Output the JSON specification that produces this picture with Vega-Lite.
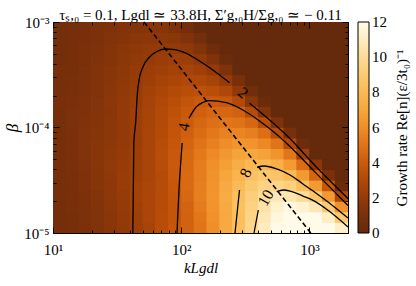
{
"$schema":"https://vega.github.io/schema/vega-lite/v6.json",
"width":295,"height":211,"autosize":"none",
"padding":{"left":53,"top":22,"right":68,"bottom":53},
"background":"white",
"config":{"font":"Liberation Serif","view":{"stroke":"black","strokeWidth":1}},
"title":{"text":"τₛ,₀ = 0.1, Lgdl ≃ 33.8H, Σ′g,₀H/Σg,₀ ≃ − 0.11","fontSize":15,"fontWeight":"normal","font":"Liberation Serif","offset":-8,"anchor":"middle","color":"black"},
"datasets":{
"grid":[
{"k":11.22,"b":1.122e-5,"g":0.7},{"k":14.13,"b":1.122e-5,"g":0.84},{"k":17.78,"b":1.122e-5,"g":1.03},{"k":22.39,"b":1.122e-5,"g":1.24},{"k":28.18,"b":1.122e-5,"g":1.51},{"k":35.48,"b":1.122e-5,"g":1.85},{"k":44.67,"b":1.122e-5,"g":2.27},{"k":56.23,"b":1.122e-5,"g":2.73},{"k":70.79,"b":1.122e-5,"g":3.31},{"k":89.13,"b":1.122e-5,"g":3.78},{"k":112.2,"b":1.122e-5,"g":4.32},{"k":141.3,"b":1.122e-5,"g":5.0},{"k":177.8,"b":1.122e-5,"g":6.05},{"k":223.9,"b":1.122e-5,"g":7.19},{"k":281.8,"b":1.122e-5,"g":8.34},{"k":354.8,"b":1.122e-5,"g":9.71},{"k":446.7,"b":1.122e-5,"g":11.0},{"k":562.3,"b":1.122e-5,"g":12.3},{"k":707.9,"b":1.122e-5,"g":13.4},{"k":891.3,"b":1.122e-5,"g":14.2},{"k":1122,"b":1.122e-5,"g":13.7},{"k":1413,"b":1.122e-5,"g":12.8},{"k":1778,"b":1.122e-5,"g":11.2},
{"k":11.22,"b":1.413e-5,"g":0.72},{"k":14.13,"b":1.413e-5,"g":0.87},{"k":17.78,"b":1.413e-5,"g":1.05},{"k":22.39,"b":1.413e-5,"g":1.27},{"k":28.18,"b":1.413e-5,"g":1.55},{"k":35.48,"b":1.413e-5,"g":1.91},{"k":44.67,"b":1.413e-5,"g":2.3},{"k":56.23,"b":1.413e-5,"g":2.81},{"k":70.79,"b":1.413e-5,"g":3.28},{"k":89.13,"b":1.413e-5,"g":3.72},{"k":112.2,"b":1.413e-5,"g":4.29},{"k":141.3,"b":1.413e-5,"g":5.1},{"k":177.8,"b":1.413e-5,"g":6.14},{"k":223.9,"b":1.413e-5,"g":7.18},{"k":281.8,"b":1.413e-5,"g":8.32},{"k":354.8,"b":1.413e-5,"g":9.57},{"k":446.7,"b":1.413e-5,"g":10.7},{"k":562.3,"b":1.413e-5,"g":11.7},{"k":707.9,"b":1.413e-5,"g":12.6},{"k":891.3,"b":1.413e-5,"g":12.8},{"k":1122,"b":1.413e-5,"g":12.2},{"k":1413,"b":1.413e-5,"g":11.1},{"k":1778,"b":1.413e-5,"g":9.0},
{"k":11.22,"b":1.778e-5,"g":0.74},{"k":14.13,"b":1.778e-5,"g":0.9},{"k":17.78,"b":1.778e-5,"g":1.08},{"k":22.39,"b":1.778e-5,"g":1.32},{"k":28.18,"b":1.778e-5,"g":1.62},{"k":35.48,"b":1.778e-5,"g":1.98},{"k":44.67,"b":1.778e-5,"g":2.4},{"k":56.23,"b":1.778e-5,"g":2.87},{"k":70.79,"b":1.778e-5,"g":3.24},{"k":89.13,"b":1.778e-5,"g":3.71},{"k":112.2,"b":1.778e-5,"g":4.33},{"k":141.3,"b":1.778e-5,"g":5.28},{"k":177.8,"b":1.778e-5,"g":6.24},{"k":223.9,"b":1.778e-5,"g":7.19},{"k":281.8,"b":1.778e-5,"g":8.38},{"k":354.8,"b":1.778e-5,"g":9.45},{"k":446.7,"b":1.778e-5,"g":10.4},{"k":562.3,"b":1.778e-5,"g":11.3},{"k":707.9,"b":1.778e-5,"g":11.8},{"k":891.3,"b":1.778e-5,"g":11.4},{"k":1122,"b":1.778e-5,"g":10.7},{"k":1413,"b":1.778e-5,"g":9.0},{"k":1778,"b":1.778e-5,"g":6.2},
{"k":11.22,"b":2.239e-5,"g":0.77},{"k":14.13,"b":2.239e-5,"g":0.93},{"k":17.78,"b":2.239e-5,"g":1.13},{"k":22.39,"b":2.239e-5,"g":1.38},{"k":28.18,"b":2.239e-5,"g":1.7},{"k":35.48,"b":2.239e-5,"g":2.05},{"k":44.67,"b":2.239e-5,"g":2.49},{"k":56.23,"b":2.239e-5,"g":2.84},{"k":70.79,"b":2.239e-5,"g":3.25},{"k":89.13,"b":2.239e-5,"g":3.76},{"k":112.2,"b":2.239e-5,"g":4.53},{"k":141.3,"b":2.239e-5,"g":5.41},{"k":177.8,"b":2.239e-5,"g":6.28},{"k":223.9,"b":2.239e-5,"g":7.3},{"k":281.8,"b":2.239e-5,"g":8.32},{"k":354.8,"b":2.239e-5,"g":9.22},{"k":446.7,"b":2.239e-5,"g":10.1},{"k":562.3,"b":2.239e-5,"g":10.7},{"k":707.9,"b":2.239e-5,"g":10.6},{"k":891.3,"b":2.239e-5,"g":10.0},{"k":1122,"b":2.239e-5,"g":8.7},{"k":1413,"b":2.239e-5,"g":6.45},{"k":1778,"b":2.239e-5,"g":2.9},
{"k":11.22,"b":2.818e-5,"g":0.79},{"k":14.13,"b":2.818e-5,"g":0.96},{"k":17.78,"b":2.818e-5,"g":1.17},{"k":22.39,"b":2.818e-5,"g":1.43},{"k":28.18,"b":2.818e-5,"g":1.73},{"k":35.48,"b":2.818e-5,"g":2.11},{"k":44.67,"b":2.818e-5,"g":2.47},{"k":56.23,"b":2.818e-5,"g":2.81},{"k":70.79,"b":2.818e-5,"g":3.23},{"k":89.13,"b":2.818e-5,"g":3.83},{"k":112.2,"b":2.818e-5,"g":4.62},{"k":141.3,"b":2.818e-5,"g":5.41},{"k":177.8,"b":2.818e-5,"g":6.26},{"k":223.9,"b":2.818e-5,"g":7.22},{"k":281.8,"b":2.818e-5,"g":8.08},{"k":354.8,"b":2.818e-5,"g":8.87},{"k":446.7,"b":2.818e-5,"g":9.55},{"k":562.3,"b":2.818e-5,"g":9.64},{"k":707.9,"b":2.818e-5,"g":9.32},{"k":891.3,"b":2.818e-5,"g":8.26},{"k":1122,"b":2.818e-5,"g":6.53},{"k":1413,"b":2.818e-5,"g":3.82},{"k":1778,"b":2.818e-5,"g":0.28},
{"k":11.22,"b":3.548e-5,"g":0.8},{"k":14.13,"b":3.548e-5,"g":0.97},{"k":17.78,"b":3.548e-5,"g":1.2},{"k":22.39,"b":3.548e-5,"g":1.46},{"k":28.18,"b":3.548e-5,"g":1.77},{"k":35.48,"b":3.548e-5,"g":2.13},{"k":44.67,"b":3.548e-5,"g":2.39},{"k":56.23,"b":3.548e-5,"g":2.75},{"k":70.79,"b":3.548e-5,"g":3.19},{"k":89.13,"b":3.548e-5,"g":3.9},{"k":112.2,"b":3.548e-5,"g":4.61},{"k":141.3,"b":3.548e-5,"g":5.32},{"k":177.8,"b":3.548e-5,"g":6.2},{"k":223.9,"b":3.548e-5,"g":7.0},{"k":281.8,"b":3.548e-5,"g":7.71},{"k":354.8,"b":3.548e-5,"g":8.42},{"k":446.7,"b":3.548e-5,"g":8.86},{"k":562.3,"b":3.548e-5,"g":8.6},{"k":707.9,"b":3.548e-5,"g":8.0},{"k":891.3,"b":3.548e-5,"g":6.49},{"k":1122,"b":3.548e-5,"g":4.42},{"k":1413,"b":3.548e-5,"g":1.0},{"k":1778,"b":3.548e-5,"g":0},
{"k":11.22,"b":4.467e-5,"g":0.83},{"k":14.13,"b":4.467e-5,"g":1.01},{"k":17.78,"b":4.467e-5,"g":1.24},{"k":22.39,"b":4.467e-5,"g":1.49},{"k":28.18,"b":4.467e-5,"g":1.81},{"k":35.48,"b":4.467e-5,"g":2.08},{"k":44.67,"b":4.467e-5,"g":2.38},{"k":56.23,"b":4.467e-5,"g":2.75},{"k":70.79,"b":4.467e-5,"g":3.31},{"k":89.13,"b":4.467e-5,"g":3.95},{"k":112.2,"b":4.467e-5,"g":4.59},{"k":141.3,"b":4.467e-5,"g":5.34},{"k":177.8,"b":4.467e-5,"g":6.09},{"k":223.9,"b":4.467e-5,"g":6.76},{"k":281.8,"b":4.467e-5,"g":7.4},{"k":354.8,"b":4.467e-5,"g":7.89},{"k":446.7,"b":4.467e-5,"g":7.85},{"k":562.3,"b":4.467e-5,"g":7.47},{"k":707.9,"b":4.467e-5,"g":6.52},{"k":891.3,"b":4.467e-5,"g":4.71},{"k":1122,"b":4.467e-5,"g":1.62},{"k":1413,"b":4.467e-5,"g":0},{"k":1778,"b":4.467e-5,"g":0},
{"k":11.22,"b":5.623e-5,"g":0.84},{"k":14.13,"b":5.623e-5,"g":1.03},{"k":17.78,"b":5.623e-5,"g":1.25},{"k":22.39,"b":5.623e-5,"g":1.52},{"k":28.18,"b":5.623e-5,"g":1.79},{"k":35.48,"b":5.623e-5,"g":2.02},{"k":44.67,"b":5.623e-5,"g":2.33},{"k":56.23,"b":5.623e-5,"g":2.75},{"k":70.79,"b":5.623e-5,"g":3.33},{"k":89.13,"b":5.623e-5,"g":3.9},{"k":112.2,"b":5.623e-5,"g":4.52},{"k":141.3,"b":5.623e-5,"g":5.21},{"k":177.8,"b":5.623e-5,"g":5.84},{"k":223.9,"b":5.623e-5,"g":6.41},{"k":281.8,"b":5.623e-5,"g":6.92},{"k":354.8,"b":5.623e-5,"g":7.12},{"k":446.7,"b":5.623e-5,"g":6.84},{"k":562.3,"b":5.623e-5,"g":6.23},{"k":707.9,"b":5.623e-5,"g":5.04},{"k":891.3,"b":5.623e-5,"g":2.29},{"k":1122,"b":5.623e-5,"g":0},{"k":1413,"b":5.623e-5,"g":0},{"k":1778,"b":5.623e-5,"g":0},
{"k":11.22,"b":7.079e-5,"g":0.85},{"k":14.13,"b":7.079e-5,"g":1.04},{"k":17.78,"b":7.079e-5,"g":1.26},{"k":22.39,"b":7.079e-5,"g":1.51},{"k":28.18,"b":7.079e-5,"g":1.7},{"k":35.48,"b":7.079e-5,"g":1.95},{"k":44.67,"b":7.079e-5,"g":2.26},{"k":56.23,"b":7.079e-5,"g":2.76},{"k":70.79,"b":7.079e-5,"g":3.27},{"k":89.13,"b":7.079e-5,"g":3.78},{"k":112.2,"b":7.079e-5,"g":4.4},{"k":141.3,"b":7.079e-5,"g":4.98},{"k":177.8,"b":7.079e-5,"g":5.49},{"k":223.9,"b":7.079e-5,"g":6.0},{"k":281.8,"b":7.079e-5,"g":6.32},{"k":354.8,"b":7.079e-5,"g":6.26},{"k":446.7,"b":7.079e-5,"g":5.82},{"k":562.3,"b":7.079e-5,"g":4.99},{"k":707.9,"b":7.079e-5,"g":3.14},{"k":891.3,"b":7.079e-5,"g":0.38},{"k":1122,"b":7.079e-5,"g":0},{"k":1413,"b":7.079e-5,"g":0},{"k":1778,"b":7.079e-5,"g":0},
{"k":11.22,"b":8.913e-5,"g":0.86},{"k":14.13,"b":8.913e-5,"g":1.03},{"k":17.78,"b":8.913e-5,"g":1.26},{"k":22.39,"b":8.913e-5,"g":1.45},{"k":28.18,"b":8.913e-5,"g":1.65},{"k":35.48,"b":8.913e-5,"g":1.91},{"k":44.67,"b":8.913e-5,"g":2.29},{"k":56.23,"b":8.913e-5,"g":2.74},{"k":70.79,"b":8.913e-5,"g":3.19},{"k":89.13,"b":8.913e-5,"g":3.71},{"k":112.2,"b":8.913e-5,"g":4.24},{"k":141.3,"b":8.913e-5,"g":4.71},{"k":177.8,"b":8.913e-5,"g":5.16},{"k":223.9,"b":8.913e-5,"g":5.51},{"k":281.8,"b":8.913e-5,"g":5.65},{"k":354.8,"b":8.913e-5,"g":5.41},{"k":446.7,"b":8.913e-5,"g":4.81},{"k":562.3,"b":8.913e-5,"g":3.2},{"k":707.9,"b":8.913e-5,"g":0.97},{"k":891.3,"b":8.913e-5,"g":0},{"k":1122,"b":8.913e-5,"g":0},{"k":1413,"b":8.913e-5,"g":0},{"k":1778,"b":8.913e-5,"g":0},
{"k":11.22,"b":1.122e-4,"g":0.86},{"k":14.13,"b":1.122e-4,"g":1.05},{"k":17.78,"b":1.122e-4,"g":1.24},{"k":22.39,"b":1.122e-4,"g":1.41},{"k":28.18,"b":1.122e-4,"g":1.62},{"k":35.48,"b":1.122e-4,"g":1.91},{"k":44.67,"b":1.122e-4,"g":2.31},{"k":56.23,"b":1.122e-4,"g":2.71},{"k":70.79,"b":1.122e-4,"g":3.14},{"k":89.13,"b":1.122e-4,"g":3.62},{"k":112.2,"b":1.122e-4,"g":4.07},{"k":141.3,"b":1.122e-4,"g":4.47},{"k":177.8,"b":1.122e-4,"g":4.83},{"k":223.9,"b":1.122e-4,"g":5.05},{"k":281.8,"b":1.122e-4,"g":4.95},{"k":354.8,"b":1.122e-4,"g":4.55},{"k":446.7,"b":1.122e-4,"g":3.33},{"k":562.3,"b":1.122e-4,"g":1.14},{"k":707.9,"b":1.122e-4,"g":0},{"k":891.3,"b":1.122e-4,"g":0},{"k":1122,"b":1.122e-4,"g":0},{"k":1413,"b":1.122e-4,"g":0},{"k":1778,"b":1.122e-4,"g":0},
{"k":11.22,"b":1.413e-4,"g":0.88},{"k":14.13,"b":1.413e-4,"g":1.06},{"k":17.78,"b":1.413e-4,"g":1.2},{"k":22.39,"b":1.413e-4,"g":1.37},{"k":28.18,"b":1.413e-4,"g":1.59},{"k":35.48,"b":1.413e-4,"g":1.94},{"k":44.67,"b":1.413e-4,"g":2.3},{"k":56.23,"b":1.413e-4,"g":2.66},{"k":70.79,"b":1.413e-4,"g":3.1},{"k":89.13,"b":1.413e-4,"g":3.51},{"k":112.2,"b":1.413e-4,"g":3.87},{"k":141.3,"b":1.413e-4,"g":4.23},{"k":177.8,"b":1.413e-4,"g":4.47},{"k":223.9,"b":1.413e-4,"g":4.48},{"k":281.8,"b":1.413e-4,"g":4.25},{"k":354.8,"b":1.413e-4,"g":3.22},{"k":446.7,"b":1.413e-4,"g":1.37},{"k":562.3,"b":1.413e-4,"g":0},{"k":707.9,"b":1.413e-4,"g":0},{"k":891.3,"b":1.413e-4,"g":0},{"k":1122,"b":1.413e-4,"g":0},{"k":1413,"b":1.413e-4,"g":0},{"k":1778,"b":1.413e-4,"g":0},
{"k":11.22,"b":1.778e-4,"g":0.89},{"k":14.13,"b":1.778e-4,"g":1.03},{"k":17.78,"b":1.778e-4,"g":1.17},{"k":22.39,"b":1.778e-4,"g":1.35},{"k":28.18,"b":1.778e-4,"g":1.62},{"k":35.48,"b":1.778e-4,"g":1.95},{"k":44.67,"b":1.778e-4,"g":2.27},{"k":56.23,"b":1.778e-4,"g":2.63},{"k":70.79,"b":1.778e-4,"g":3.01},{"k":89.13,"b":1.778e-4,"g":3.35},{"k":112.2,"b":1.778e-4,"g":3.67},{"k":141.3,"b":1.778e-4,"g":3.93},{"k":177.8,"b":1.778e-4,"g":4.0},{"k":223.9,"b":1.778e-4,"g":3.86},{"k":281.8,"b":1.778e-4,"g":3.1},{"k":354.8,"b":1.778e-4,"g":1.57},{"k":446.7,"b":1.778e-4,"g":0.32},{"k":562.3,"b":1.778e-4,"g":0},{"k":707.9,"b":1.778e-4,"g":0},{"k":891.3,"b":1.778e-4,"g":0},{"k":1122,"b":1.778e-4,"g":0},{"k":1413,"b":1.778e-4,"g":0},{"k":1778,"b":1.778e-4,"g":0},
{"k":11.22,"b":2.239e-4,"g":0.86},{"k":14.13,"b":2.239e-4,"g":0.97},{"k":17.78,"b":2.239e-4,"g":1.12},{"k":22.39,"b":2.239e-4,"g":1.31},{"k":28.18,"b":2.239e-4,"g":1.59},{"k":35.48,"b":2.239e-4,"g":1.87},{"k":44.67,"b":2.239e-4,"g":2.16},{"k":56.23,"b":2.239e-4,"g":2.51},{"k":70.79,"b":2.239e-4,"g":2.81},{"k":89.13,"b":2.239e-4,"g":3.09},{"k":112.2,"b":2.239e-4,"g":3.35},{"k":141.3,"b":2.239e-4,"g":3.48},{"k":177.8,"b":2.239e-4,"g":3.32},{"k":223.9,"b":2.239e-4,"g":2.93},{"k":281.8,"b":2.239e-4,"g":1.82},{"k":354.8,"b":2.239e-4,"g":0.62},{"k":446.7,"b":2.239e-4,"g":0},{"k":562.3,"b":2.239e-4,"g":0},{"k":707.9,"b":2.239e-4,"g":0},{"k":891.3,"b":2.239e-4,"g":0},{"k":1122,"b":2.239e-4,"g":0},{"k":1413,"b":2.239e-4,"g":0},{"k":1778,"b":2.239e-4,"g":0},
{"k":11.22,"b":2.818e-4,"g":0.8},{"k":14.13,"b":2.818e-4,"g":0.92},{"k":17.78,"b":2.818e-4,"g":1.07},{"k":22.39,"b":2.818e-4,"g":1.3},{"k":28.18,"b":2.818e-4,"g":1.54},{"k":35.48,"b":2.818e-4,"g":1.78},{"k":44.67,"b":2.818e-4,"g":2.08},{"k":56.23,"b":2.818e-4,"g":2.35},{"k":70.79,"b":2.818e-4,"g":2.6},{"k":89.13,"b":2.818e-4,"g":2.84},{"k":112.2,"b":2.818e-4,"g":3.01},{"k":141.3,"b":2.818e-4,"g":2.94},{"k":177.8,"b":2.818e-4,"g":2.63},{"k":223.9,"b":2.818e-4,"g":2.0},{"k":281.8,"b":2.818e-4,"g":0.91},{"k":354.8,"b":2.818e-4,"g":0},{"k":446.7,"b":2.818e-4,"g":0},{"k":562.3,"b":2.818e-4,"g":0},{"k":707.9,"b":2.818e-4,"g":0},{"k":891.3,"b":2.818e-4,"g":0},{"k":1122,"b":2.818e-4,"g":0},{"k":1413,"b":2.818e-4,"g":0},{"k":1778,"b":2.818e-4,"g":0},
{"k":11.22,"b":3.548e-4,"g":0.76},{"k":14.13,"b":3.548e-4,"g":0.88},{"k":17.78,"b":3.548e-4,"g":1.05},{"k":22.39,"b":3.548e-4,"g":1.26},{"k":28.18,"b":3.548e-4,"g":1.47},{"k":35.48,"b":3.548e-4,"g":1.71},{"k":44.67,"b":3.548e-4,"g":1.96},{"k":56.23,"b":3.548e-4,"g":2.18},{"k":70.79,"b":3.548e-4,"g":2.39},{"k":89.13,"b":3.548e-4,"g":2.56},{"k":112.2,"b":3.548e-4,"g":2.62},{"k":141.3,"b":3.548e-4,"g":2.4},{"k":177.8,"b":3.548e-4,"g":1.93},{"k":223.9,"b":3.548e-4,"g":1.16},{"k":281.8,"b":3.548e-4,"g":0},{"k":354.8,"b":3.548e-4,"g":0},{"k":446.7,"b":3.548e-4,"g":0},{"k":562.3,"b":3.548e-4,"g":0},{"k":707.9,"b":3.548e-4,"g":0},{"k":891.3,"b":3.548e-4,"g":0},{"k":1122,"b":3.548e-4,"g":0},{"k":1413,"b":3.548e-4,"g":0},{"k":1778,"b":3.548e-4,"g":0},
{"k":11.22,"b":4.467e-4,"g":0.73},{"k":14.13,"b":4.467e-4,"g":0.85},{"k":17.78,"b":4.467e-4,"g":1.04},{"k":22.39,"b":4.467e-4,"g":1.22},{"k":28.18,"b":4.467e-4,"g":1.41},{"k":35.48,"b":4.467e-4,"g":1.63},{"k":44.67,"b":4.467e-4,"g":1.84},{"k":56.23,"b":4.467e-4,"g":2.02},{"k":70.79,"b":4.467e-4,"g":2.19},{"k":89.13,"b":4.467e-4,"g":2.29},{"k":112.2,"b":4.467e-4,"g":2.21},{"k":141.3,"b":4.467e-4,"g":1.85},{"k":177.8,"b":4.467e-4,"g":1.22},{"k":223.9,"b":4.467e-4,"g":0.31},{"k":281.8,"b":4.467e-4,"g":0},{"k":354.8,"b":4.467e-4,"g":0},{"k":446.7,"b":4.467e-4,"g":0},{"k":562.3,"b":4.467e-4,"g":0},{"k":707.9,"b":4.467e-4,"g":0},{"k":891.3,"b":4.467e-4,"g":0},{"k":1122,"b":4.467e-4,"g":0},{"k":1413,"b":4.467e-4,"g":0},{"k":1778,"b":4.467e-4,"g":0},
{"k":11.22,"b":5.623e-4,"g":0.71},{"k":14.13,"b":5.623e-4,"g":0.86},{"k":17.78,"b":5.623e-4,"g":1.02},{"k":22.39,"b":5.623e-4,"g":1.18},{"k":28.18,"b":5.623e-4,"g":1.37},{"k":35.48,"b":5.623e-4,"g":1.56},{"k":44.67,"b":5.623e-4,"g":1.73},{"k":56.23,"b":5.623e-4,"g":1.89},{"k":70.79,"b":5.623e-4,"g":2.0},{"k":89.13,"b":5.623e-4,"g":1.95},{"k":112.2,"b":5.623e-4,"g":1.75},{"k":141.3,"b":5.623e-4,"g":1.25},{"k":177.8,"b":5.623e-4,"g":0.52},{"k":223.9,"b":5.623e-4,"g":0},{"k":281.8,"b":5.623e-4,"g":0},{"k":354.8,"b":5.623e-4,"g":0},{"k":446.7,"b":5.623e-4,"g":0},{"k":562.3,"b":5.623e-4,"g":0},{"k":707.9,"b":5.623e-4,"g":0},{"k":891.3,"b":5.623e-4,"g":0},{"k":1122,"b":5.623e-4,"g":0},{"k":1413,"b":5.623e-4,"g":0},{"k":1778,"b":5.623e-4,"g":0},
{"k":11.22,"b":7.079e-4,"g":0.68},{"k":14.13,"b":7.079e-4,"g":0.81},{"k":17.78,"b":7.079e-4,"g":0.95},{"k":22.39,"b":7.079e-4,"g":1.1},{"k":28.18,"b":7.079e-4,"g":1.27},{"k":35.48,"b":7.079e-4,"g":1.41},{"k":44.67,"b":7.079e-4,"g":1.55},{"k":56.23,"b":7.079e-4,"g":1.66},{"k":70.79,"b":7.079e-4,"g":1.7},{"k":89.13,"b":7.079e-4,"g":1.55},{"k":112.2,"b":7.079e-4,"g":1.24},{"k":141.3,"b":7.079e-4,"g":0.66},{"k":177.8,"b":7.079e-4,"g":0},{"k":223.9,"b":7.079e-4,"g":0},{"k":281.8,"b":7.079e-4,"g":0},{"k":354.8,"b":7.079e-4,"g":0},{"k":446.7,"b":7.079e-4,"g":0},{"k":562.3,"b":7.079e-4,"g":0},{"k":707.9,"b":7.079e-4,"g":0},{"k":891.3,"b":7.079e-4,"g":0},{"k":1122,"b":7.079e-4,"g":0},{"k":1413,"b":7.079e-4,"g":0},{"k":1778,"b":7.079e-4,"g":0},
{"k":11.22,"b":8.913e-4,"g":0.66},{"k":14.13,"b":8.913e-4,"g":0.78},{"k":17.78,"b":8.913e-4,"g":0.9},{"k":22.39,"b":8.913e-4,"g":1.05},{"k":28.18,"b":8.913e-4,"g":1.18},{"k":35.48,"b":8.913e-4,"g":1.3},{"k":44.67,"b":8.913e-4,"g":1.41},{"k":56.23,"b":8.913e-4,"g":1.5},{"k":70.79,"b":8.913e-4,"g":1.44},{"k":89.13,"b":8.913e-4,"g":1.14},{"k":112.2,"b":8.913e-4,"g":0.73},{"k":141.3,"b":8.913e-4,"g":0.06},{"k":177.8,"b":8.913e-4,"g":0},{"k":223.9,"b":8.913e-4,"g":0},{"k":281.8,"b":8.913e-4,"g":0},{"k":354.8,"b":8.913e-4,"g":0},{"k":446.7,"b":8.913e-4,"g":0},{"k":562.3,"b":8.913e-4,"g":0},{"k":707.9,"b":8.913e-4,"g":0},{"k":891.3,"b":8.913e-4,"g":0},{"k":1122,"b":8.913e-4,"g":0},{"k":1413,"b":8.913e-4,"g":0},{"k":1778,"b":8.913e-4,"g":0}
],
"contours":[
{"seg":"2a","k":41.95,"b":1e-5},{"seg":"2a","k":42.7,"b":7.13e-5},{"seg":"2a","k":44.3,"b":1.178e-4},{"seg":"2a","k":45.3,"b":1.959e-4},{"seg":"2a","k":46.9,"b":2.82e-4},{"seg":"2a","k":50.4,"b":3.77e-4},{"seg":"2a","k":56.9,"b":4.69e-4},{"seg":"2a","k":64.1,"b":5.23e-4},{"seg":"2a","k":74.4,"b":5.55e-4},{"seg":"2a","k":89.0,"b":5.48e-4},{"seg":"2a","k":109.8,"b":5.05e-4},{"seg":"2a","k":147.8,"b":4.06e-4},{"seg":"2a","k":199.4,"b":3.15e-4},{"seg":"2a","k":238.5,"b":2.66e-4},
{"seg":"2b","k":341.3,"b":1.696e-4},{"seg":"2b","k":698,"b":7.94e-5},{"seg":"2b","k":1122,"b":4.27e-5},{"seg":"2b","k":2000,"b":2.12e-5},
{"seg":"4a","k":92.7,"b":1e-5},{"seg":"4a","k":96.1,"b":2.556e-5},{"seg":"4a","k":101.8,"b":7.13e-5},
{"seg":"4b","k":115.0,"b":1.223e-4},{"seg":"4b","k":131.3,"b":1.574e-4},{"seg":"4b","k":147.0,"b":1.726e-4},{"seg":"4b","k":166.7,"b":1.795e-4},{"seg":"4b","k":224.8,"b":1.718e-4},{"seg":"4b","k":302.7,"b":1.465e-4},{"seg":"4b","k":408.2,"b":1.153e-4},{"seg":"4b","k":550.7,"b":8.68e-5},{"seg":"4b","k":698.9,"b":6.68e-5},{"seg":"4b","k":1122,"b":3.715e-5},{"seg":"4b","k":2000,"b":1.822e-5},
{"seg":"8a","k":262.9,"b":1e-5},{"seg":"8a","k":285.0,"b":2.556e-5},
{"seg":"8b","k":390.2,"b":4.18e-5},{"seg":"8b","k":442.4,"b":4.315e-5},{"seg":"8b","k":555.8,"b":4.05e-5},{"seg":"8b","k":706,"b":3.55e-5},{"seg":"8b","k":891,"b":2.917e-5},{"seg":"8b","k":1122,"b":2.399e-5},{"seg":"8b","k":1413,"b":1.95e-5},{"seg":"8b","k":2000,"b":1.387e-5},
{"seg":"10a","k":369.8,"b":1e-5},{"seg":"10a","k":399.4,"b":1.652e-5},
{"seg":"10b","k":555.8,"b":2.463e-5},{"seg":"10b","k":625.7,"b":2.556e-5},{"seg":"10b","k":706,"b":2.5e-5},{"seg":"10b","k":891,"b":2.24e-5},{"seg":"10b","k":1122,"b":1.972e-5},{"seg":"10b","k":1413,"b":1.622e-5},{"seg":"10b","k":2000,"b":1.14e-5}
],
"dash":[{"k":51.3,"b":1e-3},{"k":1025,"b":1e-5}],
"labels":[{"label":"2","k":303,"b":2.12e-4},{"label":"4","k":105,"b":1.01e-4},{"label":"8","k":320,"b":3.71e-5},{"label":"10","k":458,"b":2.15e-5}]
},
"layer":[
{"data":{"name":"grid"},"mark":{"type":"rect","width":{"band":1.06},"height":{"band":1.08},"clip":true},
"encoding":{
"x":{"field":"k","type":"ordinal","axis":null,"scale":{"paddingInner":0,"paddingOuter":0}},
"y":{"field":"b","type":"ordinal","sort":"descending","axis":null,"scale":{"paddingInner":0,"paddingOuter":0}},
"fill":{"field":"g","type":"quantitative","scale":{"domain":[0,1,2,3,4,5,6,7,8,9,10,11,12],"range":["#652a0c","#7a300a","#953b08","#b04808","#cb5a0c","#e07418","#ef8e28","#f6a63c","#fab955","#fcca72","#fddb96","#feecc0","#fffbe8"],"clamp":true},
"legend":{"type":"gradient","title":"Growth rate  Re[n](ε/3t₀)⁻¹","orient":"right","offset":7,"direction":"vertical","gradientLength":211,"gradientThickness":11,"values":[0,2,4,6,8,10,12],"labelFontSize":15,"labelFont":"Liberation Serif","labelColor":"black","labelOffset":3,"labelBaseline":"middle","titleFontSize":15,"titleFont":"Liberation Serif","titleFontWeight":"normal","titleColor":"black","titleOrient":"right","titleAnchor":"middle","titlePadding":8,"titleLimit":300,"gradientStrokeColor":"black","gradientStrokeWidth":1,"padding":0,
"encode":{"title":{"update":{"angle":{"value":270},"align":{"value":"center"},"baseline":{"value":"top"}}},"labels":{"update":{"baseline":{"value":"middle"}}}}}}
}},
{"layer":[
{"data":{"name":"contours"},"mark":{"type":"line","color":"black","strokeWidth":1.3,"interpolate":"monotone"},
"encoding":{
"x":{"field":"k","type":"quantitative","scale":{"type":"log","domain":[10,2000],"nice":false},
"axis":{"orient":"bottom","title":"kLgdl","titleFontSize":15,"titleFontWeight":"normal","titleFontStyle":"italic","titleColor":"black","titlePadding":0,"values":[10,20,30,40,50,60,70,80,90,100,200,300,400,500,600,700,800,900,1000,2000],"labelExpr":"datum.value == 10 ? '10¹' : datum.value == 100 ? '10²' : datum.value == 1000 ? '10³' : ''","labelFontSize":15,"labelColor":"black","labelFlush":false,"labelOverlap":false,"labelPadding":15,"domain":false,"grid":false,"tickColor":"black","tickSize":{"condition":{"test":"datum.value == 10 || datum.value == 100 || datum.value == 1000","value":-6},"value":-3},"zindex":1}},
"y":{"field":"b","type":"quantitative","scale":{"type":"log","domain":[0.00001,0.001],"nice":false},
"axis":{"orient":"left","title":"β","titleFontSize":17,"titleFontWeight":"normal","titleFontStyle":"italic","titleColor":"black","titlePadding":2,"values":[0.00001,0.00002,0.00003,0.00004,0.00005,0.00006,0.00007,0.00008,0.00009,0.0001,0.0002,0.0003,0.0004,0.0005,0.0006,0.0007,0.0008,0.0009,0.001],"labelExpr":"datum.value == 0.00001 ? '10⁻⁵' : datum.value == 0.0001 ? '10⁻⁴' : datum.value == 0.001 ? '10⁻³' : ''","labelFontSize":15,"labelColor":"black","labelFlush":false,"labelOverlap":false,"labelPadding":10,"domain":false,"grid":false,"tickColor":"black","tickSize":{"condition":{"test":"datum.value == 0.00001 || datum.value == 0.0001 || datum.value == 0.001","value":-6},"value":-3},"zindex":1}},
"detail":{"field":"seg"}}},
{"data":{"name":"dash"},"mark":{"type":"line","color":"black","strokeWidth":1.6,"strokeDash":[5,3]},
"encoding":{"x":{"field":"k","type":"quantitative","axis":{"orient":"top","labels":false,"title":null,"values":[10,20,30,40,50,60,70,80,90,100,200,300,400,500,600,700,800,900,1000,2000],"domain":false,"grid":false,"tickColor":"black","tickSize":{"condition":{"test":"datum.value == 10 || datum.value == 100 || datum.value == 1000","value":-6},"value":-3},"zindex":1}},
"y":{"field":"b","type":"quantitative","axis":{"orient":"right","labels":false,"title":null,"values":[0.00001,0.00002,0.00003,0.00004,0.00005,0.00006,0.00007,0.00008,0.00009,0.0001,0.0002,0.0003,0.0004,0.0005,0.0006,0.0007,0.0008,0.0009,0.001],"domain":false,"grid":false,"tickColor":"black","tickSize":{"condition":{"test":"datum.value == 0.00001 || datum.value == 0.0001 || datum.value == 0.001","value":-6},"value":-3},"zindex":1}}}},
{"data":{"name":"labels"},"transform":[{"filter":"datum.label == '2'"}],"mark":{"type":"text","angle":40,"fontSize":16,"font":"Liberation Serif","color":"black","align":"center","baseline":"middle"},
"encoding":{"x":{"field":"k","type":"quantitative","axis":null},"y":{"field":"b","type":"quantitative","axis":null},"text":{"field":"label"}}},
{"data":{"name":"labels"},"transform":[{"filter":"datum.label == '4'"}],"mark":{"type":"text","angle":-80,"fontSize":16,"font":"Liberation Serif","color":"black","align":"center","baseline":"middle"},
"encoding":{"x":{"field":"k","type":"quantitative","axis":null},"y":{"field":"b","type":"quantitative","axis":null},"text":{"field":"label"}}},
{"data":{"name":"labels"},"transform":[{"filter":"datum.label == '8'"}],"mark":{"type":"text","angle":-65,"fontSize":16,"font":"Liberation Serif","color":"black","align":"center","baseline":"middle"},
"encoding":{"x":{"field":"k","type":"quantitative","axis":null},"y":{"field":"b","type":"quantitative","axis":null},"text":{"field":"label"}}},
{"data":{"name":"labels"},"transform":[{"filter":"datum.label == '10'"}],"mark":{"type":"text","angle":-60,"fontSize":16,"font":"Liberation Serif","color":"black","align":"center","baseline":"middle"},
"encoding":{"x":{"field":"k","type":"quantitative","axis":null},"y":{"field":"b","type":"quantitative","axis":null},"text":{"field":"label"}}}
],
"resolve":{"axis":{"x":"independent","y":"independent"}}}
],
"resolve":{"scale":{"x":"independent","y":"independent"}}
}
